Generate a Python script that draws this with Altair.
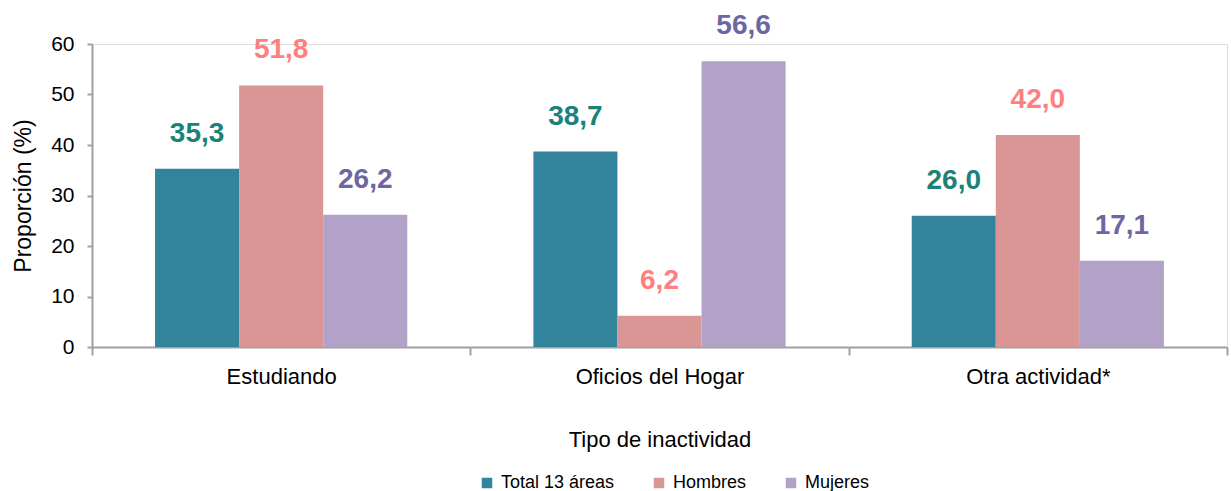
import altair as alt
import pandas as pd

categories = ["Estudiando", "Oficios del Hogar", "Otra actividad*"]
series = ["Total 13 áreas", "Hombres", "Mujeres"]
total = [35.3, 38.7, 26.0]
hombres = [51.8, 6.2, 42.0]
mujeres = [26.2, 56.6, 17.1]

bar_colors = ["#31849b", "#d99694", "#b3a2c7"]
label_colors = ["#1a8279", "#ff7f7f", "#6c66a2"]

rows = []
for s, vals in zip(series, [total, hombres, mujeres]):
    for c, v in zip(categories, vals):
        rows.append({"cat": c, "series": s, "value": v,
                     "label": f"{v:.1f}".replace(".", ",")})
df = pd.DataFrame(rows)

FONT = "Liberation Sans"

x_enc = alt.X("cat:N", sort=categories, title="Tipo de inactividad",
              scale=alt.Scale(paddingInner=0, paddingOuter=0),
              axis=alt.Axis(labelAngle=0, labelFontSize=22, labelFont=FONT,
                            labelColor="#000000", titleFontSize=22,
                            titleFont=FONT, titleFontWeight="normal",
                            titleColor="#000000", tickBand="extent",
                            tickSize=8, tickColor="#a0a0a0",
                            domainColor="#a0a0a0", domainWidth=2,
                            tickWidth=2, labelPadding=11, titlePadding=42))
y_enc = alt.Y("value:Q", title="Proporción (%)",
              scale=alt.Scale(domain=[0, 60], nice=False),
              axis=alt.Axis(values=[0, 10, 20, 30, 40, 50, 60], grid=False,
                            labelFontSize=21, labelFont=FONT,
                            labelColor="#000000", titleFontSize=23,
                            titleFont=FONT, titleFontWeight="normal",
                            titleColor="#000000", tickSize=5,
                            tickColor="#a0a0a0", domainColor="#a0a0a0",
                            domainWidth=2, tickWidth=2, labelPadding=13,
                            titlePadding=15))
xo = alt.XOffset("series:N", sort=series,
                 scale=alt.Scale(paddingInner=0, paddingOuter=0.75))

bars = alt.Chart(df).mark_bar().encode(
    x=x_enc, y=y_enc, xOffset=xo,
    color=alt.Color("series:N", sort=series,
                    scale=alt.Scale(domain=series, range=bar_colors),
                    legend=alt.Legend(title=None, orient="none",
                                      direction="horizontal",
                                      legendX=386, legendY=430,
                                      symbolType="square", symbolSize=110,
                                      symbolStrokeWidth=0,
                                      labelFontSize=18, labelFont=FONT,
                                      labelColor="#000000",
                                      columnPadding=35, symbolOffset=0,
                                      labelOffset=5)),
)

labels = alt.Chart(df).mark_text(
    baseline="bottom", dy=-21, fontSize=28, fontWeight="bold", font=FONT
).encode(
    x=alt.X("cat:N", sort=categories), y="value:Q", xOffset=xo,
    text="label:N",
    color=alt.Color("series:N", sort=series,
                    scale=alt.Scale(domain=series, range=label_colors),
                    legend=None),
)

chart = alt.layer(bars, labels).resolve_scale(color="independent").properties(
    width=1135, height=303,
    autosize=alt.AutoSizeParams(type="none"),
    padding={"left": 92, "top": 44, "right": 4, "bottom": 144},
).configure_view(stroke=None).configure(background="white")

chart.save("out.html", embed_options={"renderer": "svg", "actions": False})
